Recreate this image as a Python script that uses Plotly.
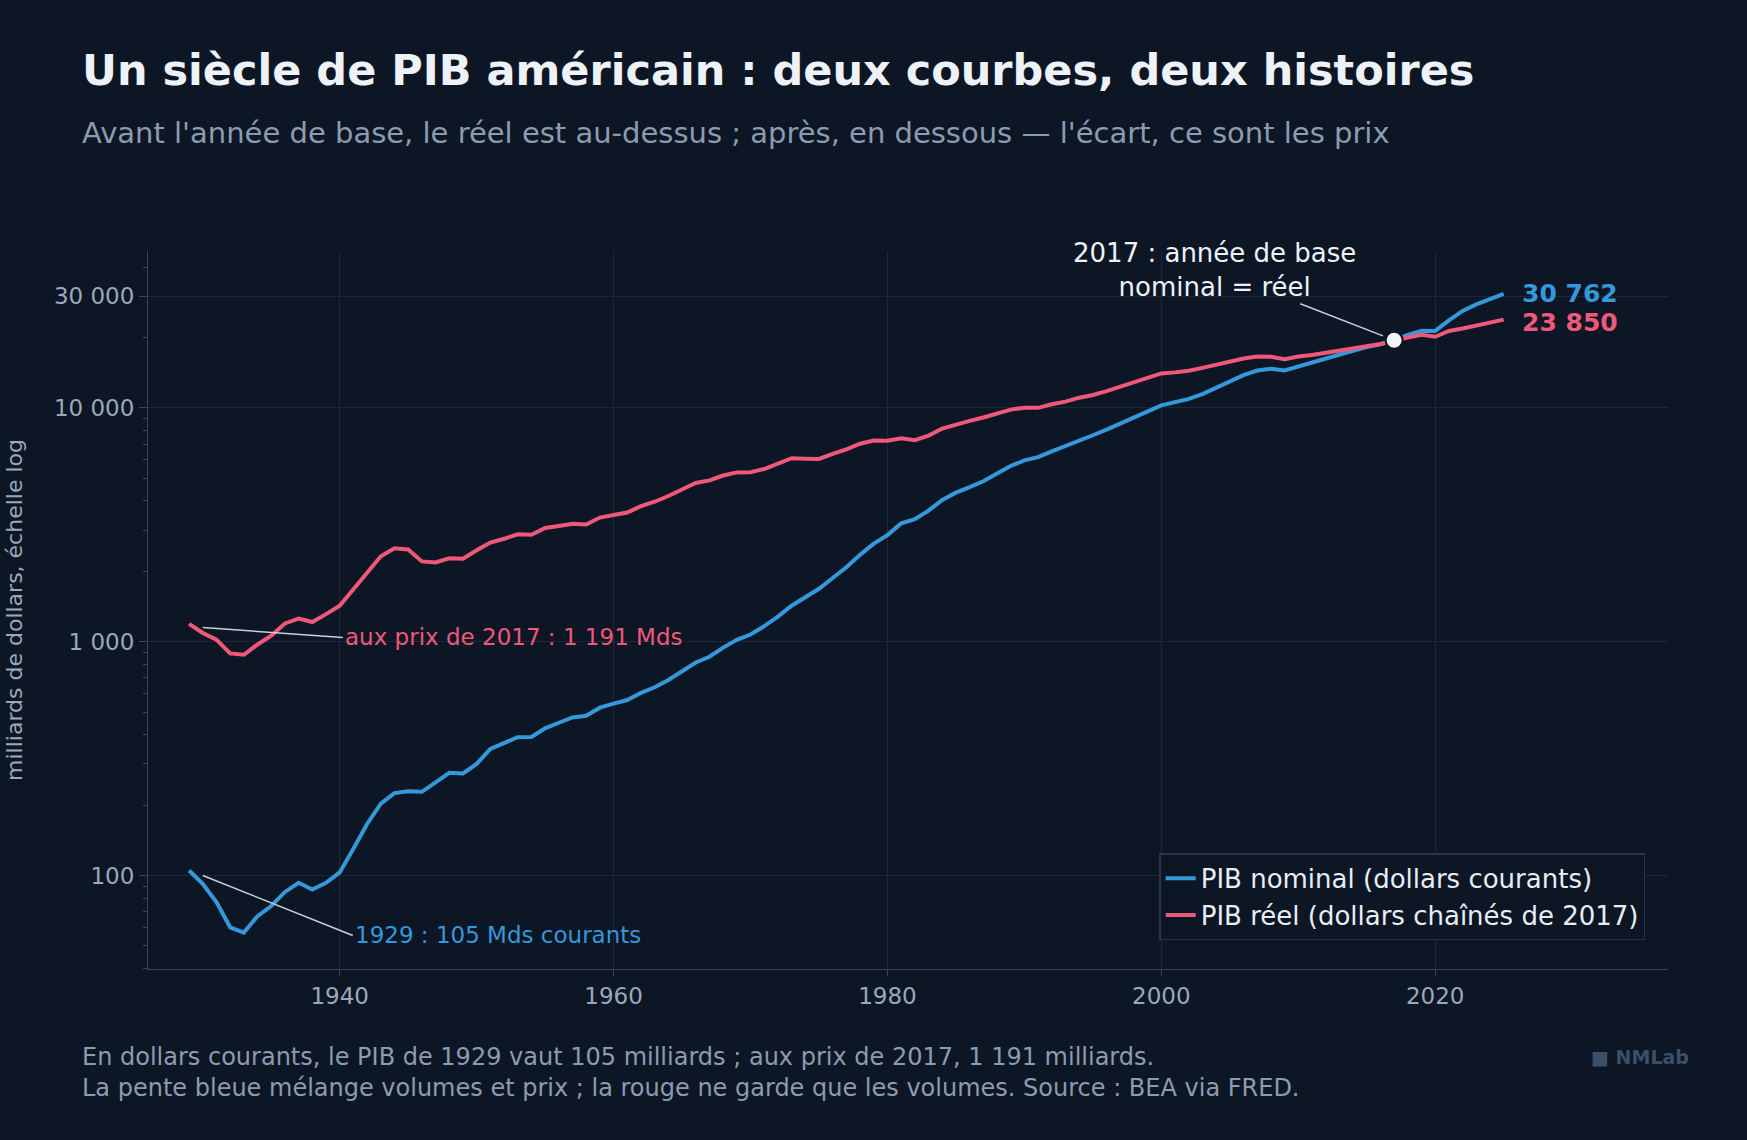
import plotly.graph_objects as go
import numpy as np

years = list(range(1929, 2026))

nominal = [105, 92, 77, 60, 57, 67, 74, 85, 93, 87, 93, 103, 130, 166, 203, 225, 229, 228, 250, 275,
           273, 300, 348, 368, 390, 391, 426, 450, 474, 482, 522, 543, 563, 604, 638, 686, 744, 815,
           862, 943, 1019, 1073, 1165, 1280, 1425, 1545, 1684, 1873, 2082, 2352, 2627, 2857, 3207,
           3344, 3634, 4037, 4339, 4580, 4855, 5236, 5642, 5963, 6158, 6520, 6859, 7287, 7640, 8073,
           8578, 9063, 9631, 10251, 10582, 10929, 11457, 12214, 13037, 13815, 14452, 14713, 14449,
           15049, 15600, 16254, 16843, 17551, 18206, 18695, 19477, 20533, 21381, 21354, 23681, 26007,
           27721, 29185, 30762]

real = [1191, 1089, 1020, 891, 879, 973, 1060, 1197, 1256, 1214, 1312, 1425, 1677, 1977, 2319, 2508,
        2480, 2205, 2182, 2275, 2263, 2461, 2653, 2755, 2880, 2864, 3066, 3127, 3196, 3172, 3395,
        3480, 3569, 3797, 3969, 4200, 4469, 4771, 4897, 5139, 5298, 5307, 5478, 5760, 6091, 6060,
        6047, 6364, 6650, 7024, 7251, 7233, 7411, 7278, 7609, 8158, 8500, 8801, 9102, 9485, 9833,
        10020, 10007, 10360, 10638, 11059, 11360, 11794, 12324, 12879, 13487, 14046, 14189, 14432,
        14829, 15344, 15845, 16261, 16573, 16554, 16147, 16581, 16840, 17198, 17534, 17932, 18438,
        18770, 19480, 20050, 20566, 20144, 21340, 21870, 22550, 23170, 23850]

tick_vals = [100, 1000, 10000, 30000]
tick_text = ["100", "1 000", "10 000", "30 000"]
minor_vals = [m * 10 ** e for e in range(1, 5) for m in range(2, 10) if 39 < m * 10 ** e < 46000]

BG = "#0c1624"
BLUE = "#3498db"
PINK = "#f0587a"
GRID = "#1c2838"
TXT = "#9aa8bb"
LX = -0.045  # left edge of title block, paper units

fig = go.Figure()
fig.add_trace(go.Scatter(x=years, y=nominal, mode="lines", name="PIB nominal (dollars courants)",
                         line=dict(color=BLUE, width=4)))
fig.add_trace(go.Scatter(x=years, y=real, mode="lines", name="PIB réel (dollars chaînés de 2017)",
                         line=dict(color=PINK, width=4)))
fig.add_trace(go.Scatter(x=[2017], y=[nominal[2017 - 1929]], mode="markers", showlegend=False,
                         marker=dict(color="#f2f4f8", size=17, line=dict(color=BG, width=2))))

fig.update_layout(
    width=1747, height=1140,
    paper_bgcolor=BG, plot_bgcolor=BG,
    font=dict(family="DejaVu Sans", color=TXT, size=20),
    margin=dict(l=148, r=79, t=251, b=171),
    legend=dict(x=0.985, y=0.04, xanchor="right", yanchor="bottom", bgcolor=BG,
                bordercolor="#2a3648", borderwidth=1.5, font=dict(size=26, color="#e8edf4")),
    showlegend=True,
)
fig.update_xaxes(range=[1926, 2037], tickvals=[1940, 1960, 1980, 2000, 2020], gridcolor=GRID,
                 showline=True, linecolor="#3a4658", ticks="outside", ticklen=6, tickcolor="#3a4658",
                 zeroline=False, tickfont=dict(size=23))
fig.update_yaxes(type="log", range=[np.log10(39.8), np.log10(46900)], tickvals=tick_vals,
                 ticktext=tick_text, gridcolor=GRID, showline=True, linecolor="#3a4658",
                 ticks="outside", ticklen=8, tickcolor="#3a4658", tickfont=dict(size=23),
                 minor=dict(tickvals=minor_vals, ticks="outside", ticklen=4, tickcolor="#3a4658",
                            showgrid=False),
                 title=dict(text="milliards de dollars, échelle log", font=dict(size=22), standoff=25))

ann = [
    dict(text="<b>Un siècle de PIB américain : deux courbes, deux histoires</b>",
         xref="paper", yref="paper", x=LX, y=1.252, xanchor="left", yanchor="middle", showarrow=False,
         font=dict(size=43, color="#eef2f8")),
    dict(text="Avant l'année de base, le réel est au-dessus ; après, en dessous — l'écart, ce sont les prix",
         xref="paper", yref="paper", x=LX, y=1.165, xanchor="left", yanchor="middle", showarrow=False,
         font=dict(size=29, color="#8c9bb0")),
    dict(text="En dollars courants, le PIB de 1929 vaut 105 milliards ; aux prix de 2017, 1 191 milliards.<br>"
              "La pente bleue mélange volumes et prix ; la rouge ne garde que les volumes. Source : BEA via FRED.",
         xref="paper", yref="paper", x=LX, y=-0.1, xanchor="left", yanchor="top", align="left",
         showarrow=False, font=dict(size=24, color="#8c9bb0")),
    dict(text="<b>■ NMLab</b>", xref="paper", yref="paper", x=1.015, y=-0.14, xanchor="right",
         showarrow=False, font=dict(size=19, color="#3a5068")),
    dict(text="<b>30 762</b>", x=2026.2, y=np.log10(31000), xanchor="left", showarrow=False,
         font=dict(size=25, color=BLUE)),
    dict(text="<b>23 850</b>", x=2026.2, y=np.log10(23300), xanchor="left", showarrow=False,
         font=dict(size=25, color=PINK)),
    dict(text="2017 : année de base<br>nominal = réel", x=2017, y=np.log10(19477), ax=-180, ay=-70,
         showarrow=True, arrowhead=0, arrowcolor="#c8d0dc", arrowwidth=1.5, standoff=12,
         font=dict(size=26, color="#eef2f8")),
    dict(text="aux prix de 2017 : 1 191 Mds", x=1930, y=np.log10(1150), ax=140, ay=10,
         showarrow=True, arrowhead=0, arrowcolor="#c8d0dc", arrowwidth=1.5, xanchor="left",
         font=dict(size=23, color=PINK)),
    dict(text="1929 : 105 Mds courants", x=1930, y=np.log10(100), ax=150, ay=60,
         showarrow=True, arrowhead=0, arrowcolor="#c8d0dc", arrowwidth=1.5, xanchor="left",
         font=dict(size=23, color=BLUE)),
]
fig.update_layout(annotations=ann)

fig.write_html("out.html", config={"displayModeBar": False},
               post_script="document.body.style.margin='0';document.body.style.background='#0c1624';")
